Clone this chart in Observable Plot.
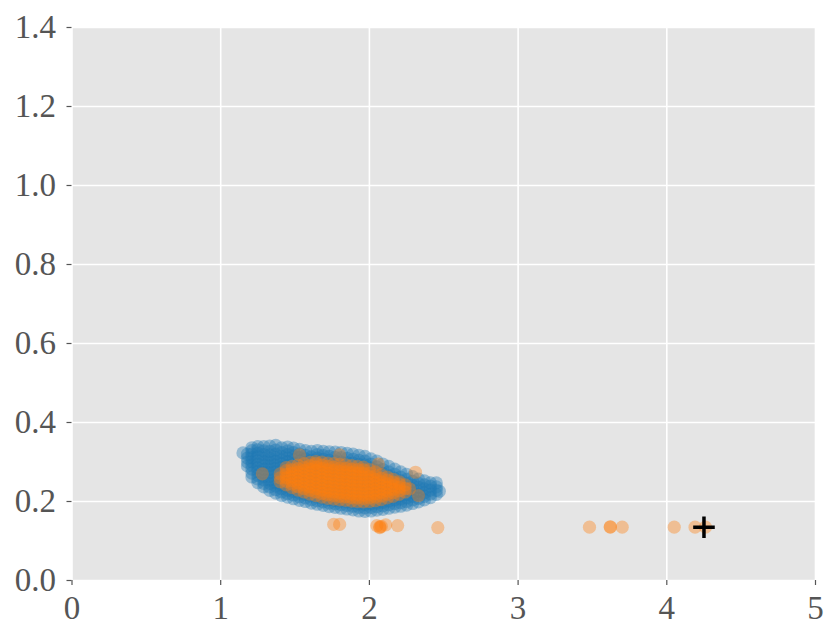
<!DOCTYPE html>
<html>
<head>
<meta charset="utf-8">
<script src="https://cdn.jsdelivr.net/npm/d3@7"></script>
<script src="https://cdn.jsdelivr.net/npm/@observablehq/plot@0.6"></script>
<style>
  body { margin: 0; background: #ffffff; }
  #chart svg { display: block; }
</style>
</head>
<body>
<div id="chart"></div>
<script>
// ---- data ----
const xTicks = [0, 1, 2, 3, 4, 5];
const yTicks = [0, 0.2, 0.4, 0.6, 0.8, 1.0, 1.2, 1.4];

// blue cloud: [x, [y values]]
const blueCols = [
  [1.15, [.323]],
  [1.18, [.290, .300, .310, .320]],
  [1.21, [.262, .272, .282, .292, .301, .311, .320, .329, .336]],
  [1.25, [.248, .257, .266, .276, .285, .294, .303, .313, .322, .331, .339]],
  [1.29, [.237, .246, .255, .264, .273, .282, .292, .301, .310, .319, .328, .339]],
  [1.33, [.228, .237, .246, .255, .264, .273, .282, .291, .300, .309, .318, .327, .340]],
  [1.37, [.221, .230, .239, .248, .257, .266, .275, .284, .293, .302, .311, .320, .330, .342]],
  [1.41, [.215, .224, .233, .242, .251, .260, .269, .278, .287, .296, .305, .314, .324, .336]],
  [1.45, [.211, .220, .229, .238, .247, .256, .265, .274, .283, .292, .301, .310, .319, .328, .338]],
  [1.49, [.207, .216, .225, .234, .243, .252, .261, .270, .279, .288, .297, .306, .315, .324, .335]],
  [1.53, [.203, .212, .221, .230, .239, .248, .257, .266, .275, .284, .293, .302, .311, .320, .332]],
  [1.57, [.200, .209, .218, .227, .236, .245, .254, .263, .272, .281, .290, .299, .308, .317, .329]],
  [1.61, [.196, .205, .214, .223, .232, .241, .250, .259, .268, .277, .286, .295, .304, .313, .327]],
  [1.65, [.193, .202, .211, .220, .229, .238, .247, .256, .265, .274, .283, .292, .301, .310, .319, .329]],
  [1.69, [.190, .199, .208, .217, .226, .235, .244, .253, .262, .271, .280, .289, .298, .307, .316, .327]],
  [1.73, [.187, .196, .205, .214, .223, .232, .241, .250, .259, .268, .277, .286, .295, .304, .314, .326]],
  [1.77, [.185, .194, .203, .212, .221, .230, .239, .248, .257, .266, .275, .284, .293, .302, .312, .325]],
  [1.81, [.183, .192, .201, .210, .219, .228, .237, .246, .255, .264, .273, .282, .291, .300, .311, .324]],
  [1.85, [.181, .190, .199, .208, .217, .226, .235, .244, .253, .262, .271, .280, .289, .298, .309, .322]],
  [1.89, [.179, .188, .197, .206, .215, .224, .233, .242, .251, .260, .269, .278, .287, .297, .307, .320]],
  [1.93, [.176, .185, .194, .203, .212, .221, .230, .239, .248, .257, .266, .275, .284, .294, .304, .317]],
  [1.97, [.175, .184, .193, .202, .211, .220, .229, .238, .247, .256, .265, .274, .283, .293, .302, .314]],
  [2.01, [.176, .185, .194, .203, .212, .221, .230, .239, .248, .257, .266, .275, .285, .295, .308]],
  [2.05, [.178, .187, .196, .205, .214, .223, .232, .241, .250, .259, .268, .278, .288, .302]],
  [2.09, [.180, .189, .198, .207, .216, .225, .234, .243, .252, .261, .271, .281, .295]],
  [2.13, [.183, .192, .201, .210, .219, .228, .237, .246, .255, .265, .275, .289]],
  [2.17, [.186, .195, .204, .213, .222, .231, .240, .249, .259, .269, .282]],
  [2.21, [.188, .197, .206, .215, .224, .233, .242, .252, .262, .275]],
  [2.25, [.191, .200, .209, .218, .227, .236, .246, .256, .269]],
  [2.29, [.195, .204, .213, .222, .231, .241, .251, .263]],
  [2.33, [.199, .208, .217, .226, .236, .246, .257]],
  [2.37, [.204, .213, .222, .232, .242, .252]],
  [2.41, [.210, .219, .229, .239, .247]],
  [2.45, [.218, .228, .237, .247]],
  [2.47, [.226]]
];

// orange cloud: [x, [y values]]
const orangeCols = [
  [1.40, [.250, .260, .270]],
  [1.44, [.242, .251, .260, .269, .278, .286]],
  [1.48, [.235, .244, .253, .262, .271, .280, .289]],
  [1.52, [.229, .238, .247, .256, .265, .274, .283, .292]],
  [1.56, [.224, .233, .242, .251, .260, .269, .278, .287, .296]],
  [1.60, [.219, .228, .237, .246, .255, .264, .273, .282, .291, .299]],
  [1.64, [.215, .224, .233, .242, .251, .260, .269, .278, .287, .296, .301]],
  [1.68, [.211, .220, .229, .238, .247, .256, .265, .274, .283, .292, .300]],
  [1.72, [.208, .217, .226, .235, .244, .253, .262, .271, .280, .289, .297]],
  [1.76, [.206, .215, .224, .233, .242, .251, .260, .269, .278, .287, .296]],
  [1.80, [.204, .213, .222, .231, .240, .249, .258, .267, .276, .285, .294]],
  [1.84, [.203, .212, .221, .230, .239, .248, .257, .266, .275, .284, .293]],
  [1.88, [.201, .210, .219, .228, .237, .246, .255, .264, .273, .282, .291]],
  [1.92, [.200, .209, .218, .227, .236, .245, .254, .263, .272, .281, .289]],
  [1.96, [.199, .208, .217, .226, .235, .244, .253, .262, .271, .280, .287]],
  [2.00, [.200, .209, .218, .227, .236, .245, .254, .263, .272, .281]],
  [2.04, [.202, .211, .220, .229, .238, .247, .256, .265, .275]],
  [2.08, [.205, .214, .223, .232, .241, .250, .259, .268]],
  [2.12, [.209, .218, .227, .236, .245, .254, .262]],
  [2.16, [.213, .222, .231, .240, .249, .256]],
  [2.20, [.218, .227, .236, .245, .250]],
  [2.24, [.224, .233, .242]],
  [2.27, [.232]]
];

// scattered orange points (inside the blue cloud and the low outliers)
const orangeExtra = [
  [1.53, .318], [1.80, .318], [1.28, .270], [2.33, .215], [2.06, .295], [2.31, .274],
  [1.76, .142], [1.80, .142], [2.05, .139], [2.07, .136], [2.07, .134], [2.08, .137],
  [2.11, .141], [2.19, .139], [2.46, .134],
  [3.48, .135], [3.62, .135], [3.62, .136], [3.70, .135], [4.05, .135], [4.19, .135], [4.26, .135]
];

const target = [[4.25, 0.135]];

// ---- tables ----
const blue = blueCols.flatMap(([x, ys]) => ys.map(y => ({x, y})));
const orange = orangeCols.flatMap(([x, ys]) => ys.map(y => ({x, y})))
  .concat(orangeExtra.map(([x, y]) => ({x, y})));
const cross = target.map(([x, y]) => ({x, y}));

const chart = Plot.plot({
  width: 838,
  height: 642,
  marginLeft: 71.5,
  marginRight: 23,
  marginTop: 27,
  marginBottom: 62,
  style: {fontFamily: "'Liberation Serif', serif", fontSize: "33px", color: "#555555", background: "#ffffff"},
  x: {domain: [0, 5]},
  y: {domain: [0, 1.4]},
  marks: [
    Plot.frame({fill: "#e5e5e5", stroke: "none"}),
    Plot.gridX(xTicks, {stroke: "#ffffff", strokeOpacity: 1, strokeWidth: 1.6}),
    Plot.gridY(yTicks, {stroke: "#ffffff", strokeOpacity: 1, strokeWidth: 1.6}),
    Plot.dot(blue, {x: "x", y: "y", r: 6.6, fill: "#1f77b4", fillOpacity: 0.4, stroke: "none"}),
    Plot.dot(orange, {x: "x", y: "y", r: 6.6, fill: "#ff7f0e", fillOpacity: 0.38, stroke: "none"}),
    Plot.dot(cross, {x: "x", y: "y", r: 7, symbol: "plus", stroke: "#000000", strokeWidth: 3.5}),
    Plot.axisX(xTicks, {tickSize: 5, tickPadding: 10, tickFormat: d => String(d), fontSize: 33, stroke: "#555555", strokeWidth: 1.2, label: null}),
    Plot.axisY(yTicks, {tickSize: 5, tickPadding: 11, tickFormat: d3.format(".1f"), fontSize: 33, stroke: "#555555", strokeWidth: 1.2, label: null})
  ]
});
document.getElementById("chart").appendChild(chart);
</script>
</body>
</html>
